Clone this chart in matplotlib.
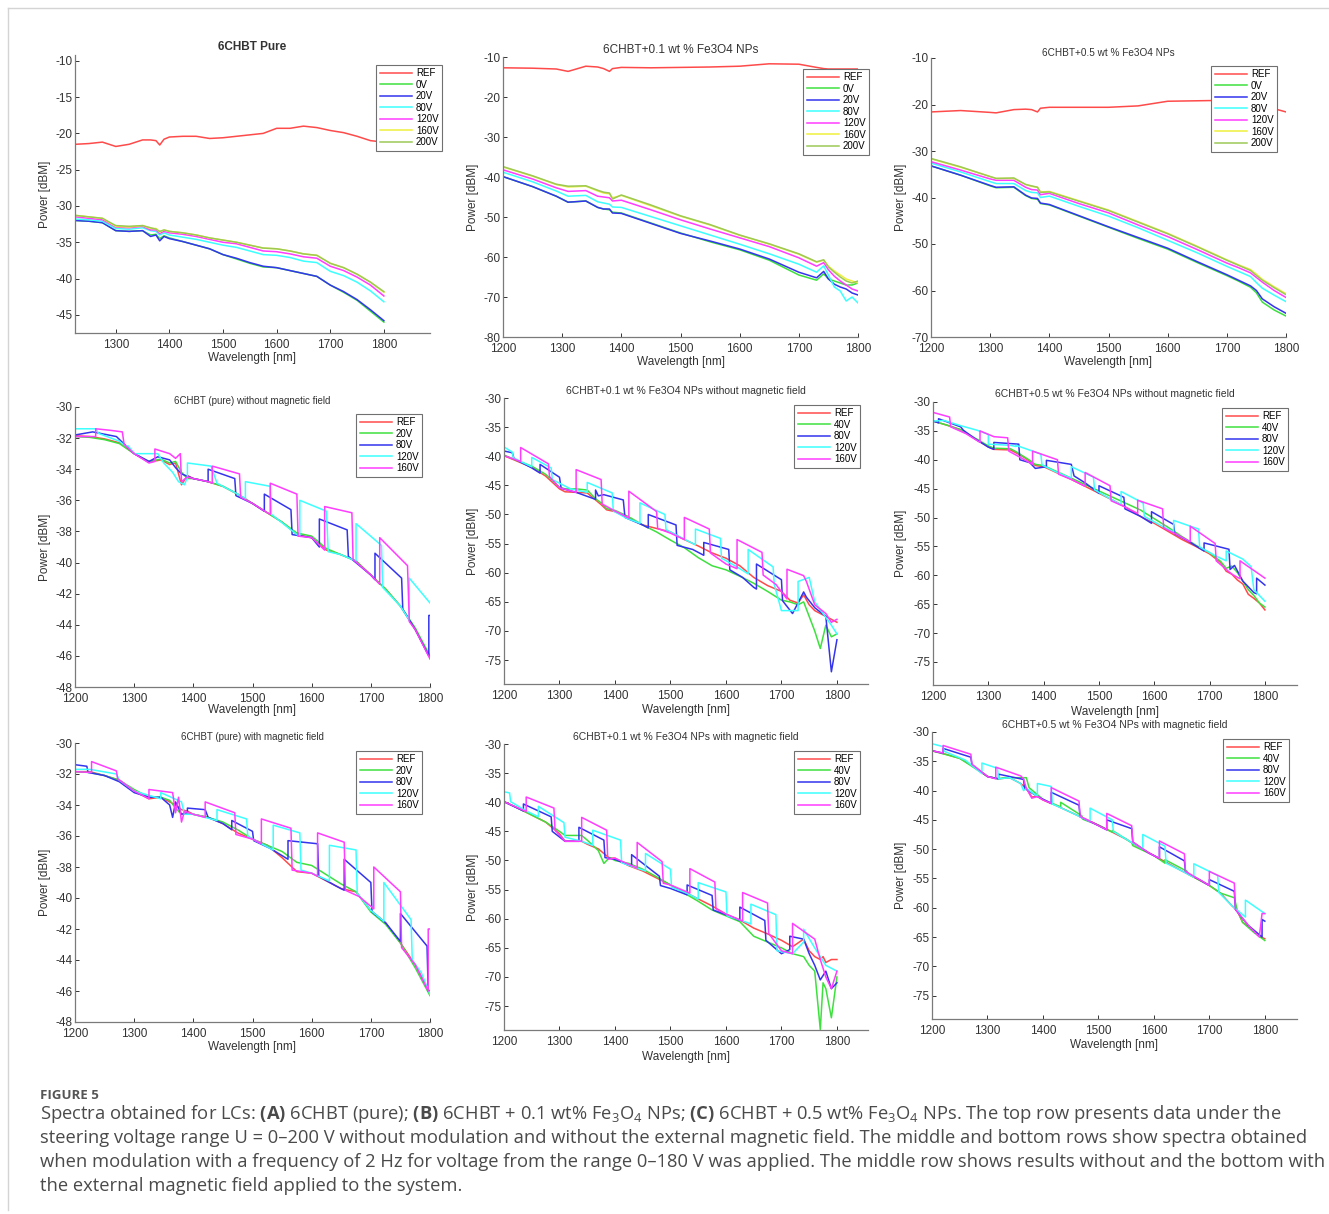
import matplotlib.pyplot as plt
from matplotlib.lines import Line2D

W, H = 1329, 1214
plt.rcParams['font.family'] = ['Liberation Sans', 'DejaVu Sans']
plt.rcParams['axes.unicode_minus'] = False
plt.rcParams['mathtext.fontset'] = 'custom'
plt.rcParams['mathtext.rm'] = 'Open Sans'
plt.rcParams['mathtext.bf'] = 'Open Sans:bold'
plt.rcParams['mathtext.it'] = 'Open Sans:italic'

# ---------------- data ----------------
# top row: no modulation, U = 0-200 V
labels_top = ['REF', '0V', '20V', '80V', '120V', '160V', '200V']

wl_a = [1225, 1250, 1275, 1300, 1325, 1350, 1365, 1375, 1382, 1390, 1400, 1425, 1450, 1475,
        1500, 1525, 1550, 1575, 1600, 1625, 1650, 1675, 1700, 1725, 1750, 1775, 1800]
a_ref = [-21.5, -21.4, -21.2, -21.8, -21.5, -20.9, -20.9, -21.0, -21.6, -20.8, -20.5, -20.4, -20.4, -20.7,
         -20.6, -20.4, -20.2, -20.0, -19.3, -19.3, -19.0, -19.2, -19.6, -19.9, -20.4, -21.0, -21.2]
a_0v = [-32.0, -32.1, -32.3, -33.4, -33.5, -33.4, -34.0, -33.9, -34.5, -34.1, -34.4, -34.9, -35.4, -35.9,
        -36.7, -37.3, -37.9, -38.4, -38.5, -38.9, -39.3, -39.7, -40.9, -41.9, -43.0, -44.5, -46.0]
a_20v = [-32.0, -32.1, -32.3, -33.4, -33.5, -33.4, -34.2, -34.0, -34.8, -34.2, -34.5, -34.9, -35.4, -35.9,
         -36.7, -37.2, -37.8, -38.3, -38.5, -38.9, -39.3, -39.7, -40.9, -41.8, -42.9, -44.3, -45.8]
a_80v = [-31.8, -31.9, -32.1, -33.1, -33.2, -33.0, -33.4, -33.5, -34.0, -33.7, -34.0, -34.3, -34.6, -35.0,
         -35.4, -35.7, -36.2, -36.7, -36.8, -37.1, -37.6, -37.8, -39.0, -39.6, -40.5, -41.7, -43.2]
a_120v = [-31.5, -31.7, -31.9, -32.9, -33.0, -32.8, -33.3, -33.3, -33.8, -33.5, -33.7, -33.9, -34.2, -34.6,
          -35.0, -35.2, -35.7, -36.2, -36.3, -36.6, -37.0, -37.2, -38.3, -38.9, -39.8, -40.9, -42.4]
a_160v = [-31.3, -31.5, -31.7, -32.8, -32.9, -32.7, -33.1, -33.1, -33.6, -33.3, -33.5, -33.7, -34.0, -34.4,
          -34.7, -35.0, -35.4, -35.8, -35.9, -36.2, -36.6, -36.8, -37.9, -38.5, -39.4, -40.5, -41.9]
a_200v = [-31.3, -31.5, -31.7, -32.7, -32.8, -32.7, -33.0, -33.2, -33.5, -33.3, -33.5, -33.7, -34.0, -34.4,
          -34.7, -35.0, -35.4, -35.8, -35.9, -36.2, -36.6, -36.8, -37.9, -38.5, -39.4, -40.5, -41.8]

wl_b = [1200, 1250, 1290, 1310, 1340, 1360, 1370, 1380, 1385, 1400, 1450, 1500, 1550, 1600, 1650,
        1700, 1730, 1742, 1750, 1760, 1770, 1780, 1790, 1800]
b_ref = [-12.7, -12.8, -13.0, -13.6, -12.3, -12.5, -12.9, -13.6, -12.9, -12.6, -12.7, -12.6, -12.5, -12.3, -11.7,
         -11.8, -12.6, -12.9, -13.0, -13.0, -13.0, -13.0, -13.0, -13.0]
b_0v = [-39.9, -42.4, -44.8, -46.3, -46.0, -47.6, -48.0, -48.2, -48.8, -49.0, -51.5, -54.0, -56.2, -58.2, -60.8,
        -64.5, -65.8, -64.2, -65.5, -66.0, -66.5, -67.0, -67.0, -66.5]
b_20v = [-39.9, -42.4, -44.8, -46.3, -46.0, -47.6, -48.0, -48.0, -49.0, -49.1, -51.6, -54.1, -56.0, -58.0, -60.5,
         -63.8, -65.2, -63.6, -65.5, -66.8, -67.5, -68.0, -69.0, -69.5]
b_80v = [-38.8, -41.2, -43.5, -44.8, -44.6, -46.2, -46.5, -46.8, -47.5, -47.6, -49.9, -52.2, -54.5, -56.8, -59.2,
         -61.8, -63.8, -62.2, -64.5, -67.5, -68.5, -71.0, -70.0, -71.5]
b_120v = [-38.2, -40.5, -42.7, -43.6, -43.4, -44.8, -45.0, -45.2, -46.0, -45.8, -48.2, -50.7, -53.0, -55.2, -57.4,
          -60.2, -62.3, -61.4, -63.2, -64.8, -66.0, -67.0, -68.0, -68.5]
b_160v = [-37.5, -39.8, -41.9, -42.5, -42.3, -43.5, -44.0, -44.2, -45.2, -44.6, -47.2, -49.8, -52.0, -54.6, -56.8,
          -59.3, -61.3, -60.8, -62.3, -63.5, -64.5, -65.5, -66.0, -66.5]
b_200v = [-37.4, -39.7, -41.8, -42.3, -42.2, -43.3, -43.8, -44.0, -45.5, -44.5, -47.0, -49.7, -51.9, -54.5, -56.7,
          -59.2, -61.2, -60.7, -62.5, -63.8, -65.0, -66.0, -66.5, -66.0]

wl_c = [1200, 1250, 1300, 1310, 1340, 1360, 1370, 1380, 1385, 1400, 1450, 1500, 1550, 1600, 1650,
        1700, 1720, 1740, 1750, 1760, 1780, 1800]
c_ref = [-21.6, -21.3, -21.7, -21.8, -21.1, -21.0, -21.1, -21.6, -20.8, -20.6, -20.6, -20.6, -20.3, -19.3, -19.2,
         -19.1, -19.4, -19.8, -20.1, -20.4, -20.9, -21.6]
c_0v = [-33.2, -35.2, -37.5, -37.9, -37.8, -39.6, -40.2, -40.4, -41.3, -41.6, -44.0, -46.4, -48.8, -51.1, -54.0,
        -56.8, -58.0, -59.3, -60.5, -62.5, -64.2, -65.5]
c_20v = [-33.2, -35.2, -37.4, -37.8, -37.7, -39.5, -40.1, -40.2, -41.2, -41.5, -43.9, -46.3, -48.6, -50.9, -53.8,
         -56.6, -57.8, -59.0, -60.0, -61.8, -63.5, -64.9]
c_80v = [-32.6, -34.5, -36.6, -37.0, -37.0, -38.5, -38.9, -39.0, -40.0, -39.7, -41.9, -44.0, -46.5, -49.2, -51.9,
         -54.8, -55.9, -57.0, -58.3, -59.5, -61.0, -62.4]
c_120v = [-32.3, -34.1, -36.0, -36.3, -36.3, -37.8, -38.3, -38.4, -39.4, -39.1, -41.3, -43.3, -45.9, -48.4, -51.2,
          -54.1, -55.1, -56.2, -57.2, -58.2, -60.0, -61.5]
c_160v = [-31.7, -33.5, -35.5, -35.9, -35.9, -37.2, -37.6, -37.8, -38.8, -38.7, -40.7, -42.7, -45.2, -47.7, -50.5,
          -53.4, -54.5, -55.5, -56.5, -57.6, -59.2, -60.7]
c_200v = [-31.6, -33.4, -35.5, -35.9, -35.8, -37.2, -37.5, -37.8, -38.9, -38.8, -40.8, -42.8, -45.3, -47.8, -50.6,
          -53.5, -54.6, -55.7, -56.8, -57.8, -59.4, -60.9]

# middle row: 2 Hz modulation, no magnetic field
labels_pure = ['REF', '20V', '80V', '120V', '160V']
labels_np = ['REF', '40V', '80V', '120V', '160V']

wl_pure = [1200, 1225, 1250, 1275, 1300, 1325, 1345, 1360, 1370, 1380, 1390, 1400, 1425, 1450,
           1475, 1500, 1525, 1550, 1575, 1600, 1625, 1650, 1675, 1700, 1725, 1750, 1775, 1800]
d_ref = [-31.85, -31.9, -32.05, -32.3, -33.0, -33.55, -33.4, -33.7, -33.6, -35.0, -34.4, -34.6, -34.8, -35.1,
         -35.6, -36.2, -36.8, -37.4, -38.2, -38.4, -39.2, -39.5, -39.9, -40.8, -41.7, -42.8, -44.3, -46.1]
d_20v = [-31.9, -31.95, -32.1, -32.35, -33.0, -33.5, -33.35, -33.6, -33.5, -34.2, -34.6, -34.6, -34.8, -35.1,
         -35.6, -36.2, -36.8, -37.4, -38.1, -38.3, -39.1, -39.5, -39.9, -40.8, -41.7, -42.8, -44.2, -46.0]
d_80v_x = [1200, 1230, 1270, 1300, 1325, 1340, 1360, 1370, 1380, 1400, 1425, 1425, 1470, 1472, 1500, 1520, 1520,
           1565, 1567, 1600, 1613, 1613, 1660, 1662, 1700, 1707, 1707, 1752, 1754, 1775, 1798, 1798, 1800]
d_80v = [-31.8, -31.6, -31.9, -33.0, -33.5, -33.2, -33.4, -33.9, -34.3, -34.6, -34.8, -34.0, -34.6, -35.7, -36.2,
         -36.7, -35.6, -36.6, -38.2, -38.4, -39.0, -37.2, -37.9, -39.6, -40.8, -41.1, -39.4, -41.0, -43.0, -44.3,
         -46.0, -43.4, -43.4]
d_120v_x = [1200, 1235, 1240, 1275, 1285, 1290, 1300, 1340, 1350, 1365, 1375, 1385, 1390, 1390, 1430, 1440, 1475,
            1488, 1488, 1530, 1532, 1575, 1580, 1580, 1625, 1628, 1650, 1675, 1675, 1718, 1720, 1750, 1765, 1765, 1800]
d_120v = [-31.4, -31.4, -31.7, -32.2, -32.5, -32.5, -33.0, -33.0, -33.6, -34.2, -34.8, -35.0, -34.5, -33.6, -33.8,
          -34.9, -35.6, -35.9, -34.8, -35.1, -36.9, -38.2, -38.3, -36.0, -36.7, -39.3, -39.5, -39.9, -37.5, -38.9,
          -41.6, -42.8, -43.7, -41.0, -42.6]
d_160v_x = [1200, 1235, 1235, 1260, 1280, 1283, 1300, 1325, 1335, 1335, 1360, 1370, 1378, 1380, 1390, 1400, 1425,
            1432, 1432, 1478, 1480, 1500, 1525, 1530, 1530, 1575, 1577, 1600, 1622, 1622, 1668, 1670, 1700, 1715,
            1715, 1762, 1765, 1775, 1800]
d_160v = [-31.9, -31.9, -31.4, -31.5, -31.6, -32.4, -33.0, -33.6, -33.5, -32.7, -33.0, -33.3, -33.0, -34.8, -34.5,
          -34.6, -34.8, -34.9, -33.8, -34.3, -35.8, -36.2, -36.8, -36.9, -34.9, -35.6, -38.3, -38.4, -39.2, -36.4,
          -36.8, -39.8, -40.8, -41.4, -38.4, -40.2, -43.8, -44.3, -46.2]

wl_e = [1200, 1225, 1250, 1275, 1300, 1310, 1330, 1350, 1365, 1375, 1385, 1400, 1425, 1450, 1475, 1500, 1525,
        1550, 1575, 1600, 1625, 1650, 1675, 1700, 1715, 1730, 1740, 1750, 1760, 1770, 1780, 1790, 1800]
e_ref = [-39.9, -40.9, -41.9, -43.4, -45.6, -46.1, -46.2, -46.3, -47.5, -48.3, -49.2, -49.5, -50.6, -51.8, -52.4,
         -53.0, -54.3, -55.4, -56.6, -57.5, -58.8, -60.8, -62.2, -63.2, -64.7, -65.2, -63.8, -65.5, -66.5, -67.0,
         -67.5, -68.0, -68.5]
e_40v = [-39.8, -40.8, -41.7, -43.1, -45.3, -45.6, -45.6, -45.8, -47.3, -48.0, -49.0, -49.3, -50.4, -51.8, -53.0,
         -54.4, -55.7, -57.4, -58.8, -59.5, -60.6, -61.8, -63.2, -64.7, -65.0, -65.5, -65.0, -67.5, -70.0, -73.0,
         -69.0, -71.0, -70.5]
e_80v_x = [1200, 1215, 1218, 1250, 1265, 1265, 1300, 1303, 1330, 1365, 1365, 1370, 1380, 1415, 1418, 1450, 1460,
           1460, 1510, 1512, 1540, 1560, 1560, 1605, 1607, 1630, 1650, 1655, 1655, 1700, 1702, 1720, 1740, 1745,
           1760, 1780, 1790, 1800]
e_80v = [-39.1, -39.4, -40.4, -42.0, -42.9, -41.4, -43.6, -45.5, -46.2, -47.4, -45.8, -46.8, -46.6, -47.5, -50.5,
         -51.8, -52.3, -50.0, -51.8, -55.3, -56.0, -57.0, -54.8, -56.0, -59.5, -60.8, -62.5, -62.8, -58.5, -61.2,
         -64.8, -67.0, -63.3, -64.2, -66.0, -67.5, -77.0, -71.5]
e_120v_x = [1200, 1215, 1217, 1250, 1250, 1285, 1287, 1320, 1350, 1350, 1395, 1397, 1420, 1445, 1445, 1490, 1492,
            1520, 1545, 1545, 1590, 1592, 1620, 1640, 1640, 1685, 1687, 1700, 1730, 1730, 1750, 1760, 1775, 1790, 1800]
e_120v = [-38.4, -39.3, -40.3, -41.8, -40.2, -42.0, -44.0, -45.6, -46.2, -44.5, -46.3, -49.4, -50.6, -51.5, -48.0,
          -50.0, -52.6, -54.0, -55.2, -52.5, -54.1, -57.5, -59.0, -60.2, -56.0, -59.0, -62.0, -66.5, -66.5, -61.5,
          -60.8, -65.0, -67.0, -69.0, -70.5]
e_160v_x = [1200, 1230, 1230, 1280, 1282, 1300, 1330, 1330, 1375, 1377, 1400, 1425, 1425, 1475, 1477, 1500, 1525,
            1525, 1570, 1572, 1600, 1620, 1620, 1665, 1667, 1690, 1710, 1710, 1740, 1745, 1760, 1780, 1790, 1800]
e_160v = [-39.9, -40.9, -38.5, -41.3, -43.5, -45.4, -46.2, -42.3, -44.0, -48.2, -49.4, -50.6, -46.0, -49.5, -52.4,
          -53.2, -54.3, -50.5, -52.5, -56.6, -58.5, -59.3, -54.3, -56.5, -60.4, -62.0, -64.5, -59.4, -60.5, -61.5,
          -65.5, -67.0, -68.5, -68.0]

wl_f = [1200, 1225, 1250, 1275, 1300, 1310, 1340, 1350, 1365, 1375, 1385, 1400, 1425, 1450, 1475, 1500, 1525,
        1550, 1575, 1600, 1625, 1650, 1675, 1700, 1720, 1730, 1740, 1750, 1760, 1770, 1780, 1790, 1800]
f_ref = [-33.3, -34.0, -34.8, -36.3, -37.8, -38.2, -38.3, -38.8, -39.6, -40.3, -41.0, -41.2, -42.3, -43.4, -44.6,
         -45.8, -47.0, -48.3, -49.8, -51.0, -52.4, -53.8, -55.0, -56.3, -57.8, -59.3, -59.8, -60.8, -61.5, -63.3,
         -64.0, -64.8, -66.0]
f_40v = [-33.3, -34.0, -34.8, -36.2, -37.6, -38.0, -38.1, -38.6, -39.5, -40.1, -40.8, -41.0, -42.1, -43.2, -44.3,
         -45.4, -46.5, -47.6, -48.7, -50.2, -51.7, -53.3, -54.8, -56.1, -57.6, -58.8, -58.4, -59.5, -61.0, -62.5,
         -63.5, -64.8, -65.5]
f_80v_x = [1200, 1210, 1210, 1250, 1255, 1275, 1300, 1310, 1310, 1355, 1357, 1375, 1385, 1405, 1405, 1450, 1455,
           1475, 1500, 1500, 1545, 1547, 1575, 1595, 1595, 1635, 1637, 1660, 1690, 1690, 1735, 1737, 1745, 1760,
           1780, 1785, 1785, 1800]
f_80v = [-33.3, -33.6, -32.9, -34.3, -34.9, -36.3, -37.8, -38.2, -37.0, -37.3, -40.0, -40.5, -41.5, -41.2, -40.1,
         -40.8, -42.8, -44.0, -45.8, -44.5, -46.5, -48.5, -49.8, -51.0, -49.0, -51.2, -52.8, -54.0, -55.8, -54.4,
         -55.5, -59.0, -58.3, -61.0, -63.0, -63.2, -60.5, -61.7]
f_120v_x = [1200, 1220, 1250, 1280, 1300, 1300, 1340, 1350, 1350, 1365, 1395, 1397, 1420, 1450, 1450, 1490, 1492,
            1510, 1540, 1540, 1580, 1582, 1610, 1635, 1635, 1680, 1682, 1710, 1730, 1730, 1760, 1775, 1780, 1800]
f_120v = [-33.3, -33.2, -34.1, -34.9, -35.6, -37.3, -37.5, -37.7, -37.5, -38.0, -39.0, -40.9, -42.0, -43.2, -41.2,
          -43.0, -45.2, -46.2, -47.8, -45.5, -47.5, -49.8, -51.3, -52.5, -50.5, -52.0, -55.1, -56.6, -57.5, -55.8,
          -57.2, -58.5, -62.5, -64.5]
f_160v_x = [1200, 1230, 1232, 1260, 1285, 1285, 1310, 1335, 1337, 1360, 1380, 1380, 1425, 1427, 1450, 1475, 1475,
            1520, 1522, 1550, 1570, 1570, 1615, 1617, 1640, 1665, 1665, 1710, 1712, 1740, 1755, 1755, 1800]
f_160v = [-31.8, -32.6, -34.3, -35.5, -37.0, -35.0, -36.0, -36.2, -38.5, -39.7, -40.8, -38.5, -40.0, -42.5, -43.4,
          -44.6, -42.2, -44.5, -47.1, -48.3, -49.3, -47.0, -48.5, -51.8, -52.9, -54.2, -51.5, -54.5, -57.5, -59.8,
          -60.6, -57.5, -60.5]

# bottom row: 2 Hz modulation, with magnetic field
g_ref = [-31.85, -31.85, -32.1, -32.4, -33.1, -33.6, -33.5, -33.8, -34.0, -34.3, -34.4, -34.6, -34.8, -35.2,
         -35.8, -36.2, -36.6, -37.4, -38.3, -38.4, -38.9, -39.4, -39.6, -40.8, -41.6, -42.9, -44.3, -46.1]
g_20v = [-31.85, -31.9, -32.1, -32.4, -33.0, -33.5, -33.5, -33.7, -34.2, -34.6, -34.5, -34.6, -34.8, -35.1,
         -35.6, -36.2, -36.6, -37.0, -37.7, -37.9, -38.5, -39.1, -39.6, -40.9, -41.7, -42.9, -44.5, -46.3]
g_80v_x = [1200, 1220, 1222, 1250, 1275, 1300, 1325, 1345, 1360, 1365, 1370, 1380, 1390, 1390, 1420, 1425, 1450,
           1465, 1465, 1500, 1502, 1530, 1560, 1560, 1610, 1612, 1640, 1655, 1655, 1700, 1702, 1725, 1750, 1750,
           1795, 1797, 1800]
g_80v = [-31.4, -31.5, -31.9, -32.1, -32.5, -33.2, -33.5, -33.5, -34.0, -34.8, -33.8, -34.6, -34.5, -34.2, -34.3,
         -34.8, -35.2, -35.6, -35.0, -35.7, -36.3, -36.8, -37.5, -36.3, -36.5, -38.6, -39.2, -39.5, -37.5, -39.0,
         -40.9, -41.6, -42.8, -41.0, -43.1, -46.0, -46.0]
g_120v_x = [1200, 1225, 1270, 1275, 1300, 1345, 1345, 1380, 1385, 1400, 1440, 1440, 1490, 1492, 1500, 1535, 1535,
            1580, 1582, 1600, 1630, 1630, 1675, 1677, 1700, 1722, 1722, 1768, 1770, 1785, 1800]
g_120v = [-31.7, -31.7, -32.0, -32.4, -33.1, -33.6, -33.2, -33.8, -34.6, -34.6, -35.0, -34.3, -34.9, -36.0, -36.2,
          -36.9, -35.3, -35.8, -38.2, -38.4, -38.9, -36.6, -36.9, -39.7, -40.8, -41.5, -39.0, -41.4, -44.0, -44.8,
          -46.2]
g_160v_x = [1200, 1228, 1228, 1270, 1272, 1300, 1325, 1325, 1365, 1370, 1375, 1380, 1385, 1400, 1420, 1420, 1470,
            1472, 1500, 1515, 1515, 1565, 1567, 1600, 1610, 1610, 1655, 1657, 1680, 1705, 1705, 1750, 1752, 1775,
            1797, 1797, 1800]
g_160v = [-31.85, -31.9, -31.2, -31.8, -32.3, -33.1, -33.6, -33.0, -33.2, -34.5, -33.5, -35.1, -34.4, -34.6, -34.8,
          -33.8, -34.5, -35.9, -36.2, -36.5, -34.9, -35.5, -38.2, -38.4, -38.6, -35.8, -36.4, -39.5, -39.9, -40.7,
          -38.0, -39.6, -43.2, -44.3, -46.0, -42.0, -42.0]

wl_h = [1200, 1225, 1250, 1275, 1300, 1310, 1340, 1350, 1370, 1380, 1390, 1400, 1425, 1450, 1475, 1500, 1525,
        1550, 1575, 1600, 1625, 1650, 1675, 1700, 1720, 1740, 1750, 1760, 1770, 1775, 1780, 1790, 1800]
h_ref = [-39.9, -41.0, -42.2, -43.4, -45.4, -46.7, -46.7, -47.2, -48.0, -48.8, -49.6, -49.6, -50.9, -51.8, -53.0,
         -54.2, -55.4, -56.6, -57.8, -59.2, -60.2, -61.6, -62.6, -63.7, -64.8, -63.5, -65.5, -66.5, -67.0, -66.5,
         -67.5, -67.0, -67.0]
h_40v = [-39.9, -41.0, -42.2, -43.4, -45.0, -45.7, -45.7, -46.5, -48.3, -50.5, -49.5, -50.0, -50.5, -51.5, -52.8,
         -54.2, -55.6, -57.0, -58.5, -59.5, -60.5, -63.0, -64.0, -65.0, -66.0, -66.5, -68.0, -69.0, -79.0, -71.0,
         -72.0, -77.0, -70.0]
h_80v_x = [1200, 1235, 1235, 1285, 1287, 1310, 1335, 1335, 1380, 1382, 1400, 1430, 1430, 1480, 1482, 1500, 1530,
           1530, 1575, 1577, 1600, 1625, 1625, 1670, 1672, 1700, 1715, 1715, 1740, 1750, 1760, 1770, 1780, 1790, 1800]
h_80v = [-39.9, -41.5, -40.3, -42.5, -45.0, -46.7, -46.7, -44.3, -46.5, -49.5, -49.8, -51.0, -49.0, -52.7, -54.3,
         -54.8, -55.9, -54.2, -56.0, -58.5, -59.3, -60.3, -58.0, -60.3, -63.7, -66.0, -65.3, -63.0, -63.5, -66.0,
         -68.0, -70.5, -69.0, -72.0, -71.0]
h_120v_x = [1200, 1210, 1212, 1240, 1262, 1262, 1308, 1310, 1340, 1360, 1360, 1410, 1412, 1430, 1455, 1455, 1500,
            1502, 1525, 1550, 1550, 1600, 1602, 1625, 1645, 1645, 1690, 1692, 1720, 1740, 1740, 1760, 1780, 1800]
h_120v = [-38.2, -38.4, -39.9, -41.5, -42.5, -40.7, -43.5, -46.0, -46.7, -47.4, -44.8, -46.5, -50.4, -51.0, -51.8,
          -48.8, -51.5, -54.6, -55.4, -56.6, -53.8, -55.4, -59.5, -60.2, -60.9, -57.5, -59.3, -65.5, -66.0, -64.0,
          -61.8, -65.0, -68.0, -69.0]
h_160v_x = [1200, 1240, 1240, 1290, 1292, 1310, 1340, 1340, 1385, 1387, 1400, 1440, 1440, 1485, 1487, 1500, 1535,
            1535, 1580, 1582, 1600, 1630, 1630, 1675, 1677, 1700, 1720, 1720, 1760, 1770, 1780, 1790, 1800]
h_160v = [-39.9, -41.6, -39.1, -41.0, -44.8, -46.7, -46.7, -42.6, -44.8, -49.8, -49.6, -51.3, -46.9, -50.2, -53.9,
          -54.2, -55.6, -51.4, -53.7, -58.3, -59.2, -60.4, -55.5, -57.3, -62.5, -65.5, -66.0, -60.8, -63.5, -67.0,
          -70.0, -72.0, -69.0]

wl_i = [1200, 1225, 1250, 1275, 1300, 1320, 1340, 1360, 1370, 1380, 1390, 1400, 1425, 1450, 1475, 1500, 1525,
        1550, 1575, 1600, 1625, 1650, 1675, 1700, 1720, 1740, 1750, 1760, 1770, 1780, 1790, 1800]
i_ref = [-33.2, -33.8, -34.5, -35.9, -37.6, -38.0, -37.8, -38.8, -39.6, -41.1, -41.0, -41.6, -42.6, -43.7, -44.8,
         -45.9, -47.1, -48.3, -49.8, -51.1, -52.4, -53.7, -54.9, -56.2, -57.5, -59.6, -60.5, -62.5, -63.2, -64.0,
         -64.8, -65.3]
i_40v_x = [1200, 1250, 1300, 1320, 1330, 1370, 1375, 1400, 1432, 1432, 1470, 1472, 1500, 1525, 1525, 1560, 1562,
           1600, 1620, 1620, 1660, 1662, 1700, 1720, 1745, 1750, 1760, 1780, 1800]
i_40v = [-33.2, -34.5, -37.6, -38.0, -37.8, -37.8, -39.5, -41.5, -42.8, -42.0, -44.3, -44.9, -45.9, -47.1, -46.8,
         -48.9, -49.4, -51.1, -52.4, -51.8, -53.8, -54.3, -56.2, -57.5, -58.3, -60.3, -62.5, -64.2, -65.6]
i_80v_x = [1200, 1220, 1220, 1270, 1272, 1300, 1320, 1320, 1365, 1367, 1390, 1415, 1415, 1465, 1467, 1490, 1515,
           1515, 1560, 1562, 1590, 1610, 1610, 1655, 1657, 1680, 1700, 1700, 1745, 1747, 1770, 1795, 1795, 1800]
i_80v = [-33.2, -33.6, -32.8, -34.3, -35.6, -37.6, -38.0, -37.2, -38.1, -39.6, -41.0, -42.2, -40.3, -42.5, -44.5,
         -45.5, -46.7, -45.0, -46.5, -48.8, -50.6, -51.6, -49.6, -52.0, -53.9, -55.1, -56.2, -55.2, -57.2, -60.3,
         -63.0, -65.0, -62.0, -62.3]
i_120v_x = [1200, 1220, 1222, 1260, 1290, 1290, 1318, 1320, 1340, 1360, 1365, 1370, 1390, 1390, 1415, 1417, 1450,
            1485, 1485, 1525, 1527, 1550, 1580, 1580, 1620, 1622, 1650, 1672, 1672, 1715, 1717, 1740, 1765, 1765, 1800]
i_120v = [-32.0, -32.5, -33.3, -34.8, -37.1, -35.3, -36.2, -38.0, -37.8, -38.8, -40.0, -39.6, -41.0, -38.8, -39.3,
          -42.3, -43.7, -45.3, -43.0, -45.0, -47.0, -48.3, -50.0, -47.5, -49.5, -52.4, -53.7, -54.8, -52.5, -54.5,
          -57.4, -59.6, -61.6, -58.7, -61.0]
i_160v_x = [1200, 1220, 1220, 1270, 1272, 1300, 1315, 1315, 1360, 1365, 1370, 1380, 1390, 1400, 1415, 1415, 1465,
            1467, 1490, 1515, 1515, 1560, 1562, 1590, 1610, 1610, 1655, 1657, 1680, 1700, 1700, 1745, 1747, 1770,
            1790, 1795, 1800]
i_160v = [-33.2, -33.6, -32.3, -33.8, -35.5, -37.6, -38.0, -36.0, -37.5, -38.0, -39.6, -41.3, -41.0, -41.6, -42.2,
          -39.5, -41.8, -44.4, -45.5, -46.7, -43.9, -46.0, -48.8, -50.6, -51.6, -48.6, -50.8, -53.8, -55.1, -56.2,
          -53.8, -55.8, -60.3, -63.0, -65.0, -61.0, -61.0]

titles = ['6CHBT Pure', '6CHBT+0.1 wt % Fe3O4 NPs', '6CHBT+0.5 wt % Fe3O4 NPs',
          '6CHBT (pure) without magnetic field', '6CHBT+0.1 wt % Fe3O4 NPs without magnetic field',
          '6CHBT+0.5 wt % Fe3O4 NPs without magnetic field',
          '6CHBT (pure) with magnetic field', '6CHBT+0.1 wt % Fe3O4 NPs with magnetic field',
          '6CHBT+0.5 wt % Fe3O4 NPs with magnetic field']

caption = [
    r'Spectra obtained for LCs: $\mathbf{(A)}$ 6CHBT (pure); $\mathbf{(B)}$ 6CHBT + 0.1 wt% Fe$_3$O$_4$ NPs; '
    r'$\mathbf{(C)}$ 6CHBT + 0.5 wt% Fe$_3$O$_4$ NPs. The top row presents data under the',
    'steering voltage range U = 0–200 V without modulation and without the external magnetic field. '
    'The middle and bottom rows show spectra obtained',
    'when modulation with a frequency of 2 Hz for voltage from the range 0–180 V was applied. '
    'The middle row shows results without and the bottom with',
    'the external magnetic field applied to the system.',
]

colors = ['#ff4a4a', '#3ee03e', '#3434ee', '#3cffff', '#ff3cff', '#f0f03c', '#9cc956']

# ---------------- figure ----------------
fig = plt.figure(figsize=(W / 100, H / 100), dpi=100)
fig.patch.set_facecolor('white')


def panel(box, xs, ys, labels, xlim, ylim, xticks, yticks, title, tsize, tbold, ty, xly, ylx, leg):
    l, t, r, b = box
    ax = fig.add_axes([l / W, 1 - b / H, (r - l) / W, (b - t) / H])
    for x, y, lab, c in zip(xs, ys, labels, colors):
        ax.plot(x, y, color=c, lw=1.1, label=lab)
    ax.set_xlim(xlim)
    ax.set_ylim(ylim)
    ax.set_xticks(xticks)
    ax.set_yticks(yticks)
    for s in ['top', 'right']:
        ax.spines[s].set_visible(False)
    for s in ['left', 'bottom']:
        ax.spines[s].set_color('#7a7a7a')
        ax.spines[s].set_linewidth(0.9)
    ax.tick_params(direction='in', length=3, width=0.7, labelsize=8.5, colors='#333333')
    ax.tick_params(axis='x', pad=4)
    ax.tick_params(axis='y', pad=2)
    fig.text((l + r) / 2 / W, 1 - ty / H, title, ha='center', va='center', fontsize=tsize,
             fontweight='bold' if tbold else 'normal', color='#333333')
    fig.text((l + r) / 2 / W, 1 - xly / H, 'Wavelength [nm]', ha='center', va='center',
             fontsize=8.5, color='#333333')
    fig.text(ylx / W, 1 - (t + b) / 2 / H, 'Power [dBM]', ha='center', va='center', rotation=90,
             fontsize=8.5, color='#333333')
    lg = ax.legend(loc='upper right', bbox_to_anchor=(leg[0] / W, 1 - leg[1] / H),
                   bbox_transform=fig.transFigure, borderaxespad=0, fontsize=7, fancybox=False,
                   framealpha=1, edgecolor='#707070', borderpad=0.35, labelspacing=0.15,
                   handlelength=3.3, handletextpad=0.4, alignment='right')
    lg.get_frame().set_linewidth(0.8)
    return ax


yt_a = list(range(-45, -9, 5))
yt_10 = list(range(-80, -9, 10))
yt_mid = list(range(-48, -29, 2))
yt_5 = list(range(-75, -29, 5))
xt = list(range(1200, 1801, 100))

panel((75, 55, 430, 333), [wl_a] * 7, [a_ref, a_0v, a_20v, a_80v, a_120v, a_160v, a_200v], labels_top,
      (1224, 1886), (-47.5, -9.2), xt[1:], yt_a, titles[0], 8.5, True, 47, 358, 45, (442, 65))
panel((503, 57, 858, 337), [wl_b] * 7, [b_ref, b_0v, b_20v, b_80v, b_120v, b_160v, b_200v], labels_top,
      (1200, 1800), (-80, -10), xt, yt_10, titles[1], 8.5, False, 50, 362, 473, (869, 69))
panel((931, 58, 1286, 337), [wl_c] * 7, [c_ref, c_0v, c_20v, c_80v, c_120v, c_160v, c_200v], labels_top,
      (1200, 1800), (-70, -10), xt, yt_10[1:], titles[2], 7.2, False, 53, 362, 901, (1277, 66))

panel((75, 407, 430, 687), [wl_pure, wl_pure, d_80v_x, d_120v_x, d_160v_x],
      [d_ref, d_20v, d_80v, d_120v, d_160v], labels_pure,
      (1200, 1800), (-48, -30), xt, yt_mid, titles[3], 7, False, 401, 710, 45, (422, 414))
panel((504, 398, 868, 684), [wl_e, wl_e, e_80v_x, e_120v_x, e_160v_x],
      [e_ref, e_40v, e_80v, e_120v, e_160v], labels_np,
      (1200, 1856), (-79.1, -30), xt, yt_5, titles[4], 7.5, False, 391, 710, 473, (860, 405))
panel((933, 402, 1297, 685), [wl_f, wl_f, f_80v_x, f_120v_x, f_160v_x],
      [f_ref, f_40v, f_80v, f_120v, f_160v], labels_np,
      (1200, 1858), (-79, -30), xt, yt_5, titles[5], 7.5, False, 394, 712, 901, (1288, 408))

panel((75, 743, 430, 1022), [wl_pure, wl_pure, g_80v_x, g_120v_x, g_160v_x],
      [g_ref, g_20v, g_80v, g_120v, g_160v], labels_pure,
      (1200, 1800), (-48, -30), xt, yt_mid, titles[6], 7, False, 737, 1047, 45, (422, 751))
panel((504, 744, 868, 1030), [wl_h, wl_h, h_80v_x, h_120v_x, h_160v_x],
      [h_ref, h_40v, h_80v, h_120v, h_160v], labels_np,
      (1200, 1856), (-79.1, -30), xt, yt_5, titles[7], 7.5, False, 737, 1057, 473, (860, 751))
panel((932, 732, 1297, 1019), [wl_i, i_40v_x, i_80v_x, i_120v_x, i_160v_x],
      [i_ref, i_40v, i_80v, i_120v, i_160v], labels_np,
      (1200, 1858), (-79, -30), xt, yt_5, titles[8], 7.5, False, 725, 1045, 901, (1289, 739))

# page frame lines
fig.add_artist(Line2D([8 / W, 8 / W], [1 - 1210 / H, 1 - 8 / H], transform=fig.transFigure,
                      color='#d4d4d4', lw=1))
fig.add_artist(Line2D([8 / W, 1], [1 - 8 / H, 1 - 8 / H], transform=fig.transFigure,
                      color='#d4d4d4', lw=1))

# caption
fig.text(40 / W, 1 - 1099 / H, 'FIGURE 5', fontsize=9.5, family='Open Sans', fontweight='bold',
         color='#555555', va='baseline')
cap_y = [1119, 1143, 1167, 1191]
cap_texts = [fig.text(40 / W, 1 - y / H, s, fontsize=12, family='Open Sans', color='#4a4a4a', va='baseline')
             for s, y in zip(caption, cap_y)]
rend = fig.canvas.get_renderer()
w2 = cap_texts[1].get_window_extent(rend).width
for t in cap_texts:
    t.set_fontsize(12 * 1259 / w2)

fig.savefig('out.png', dpi=100)
